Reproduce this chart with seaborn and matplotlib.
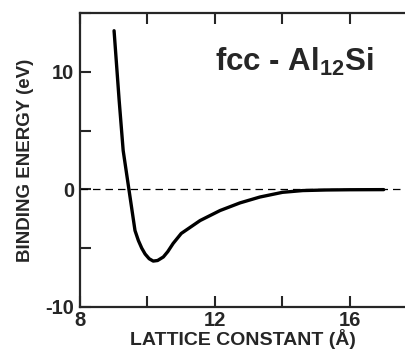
import matplotlib
matplotlib.use('Agg')
import matplotlib.pyplot as plt
import pandas as pd
import seaborn as sns
from matplotlib.ticker import MultipleLocator

# Binding energy curve
lattice = [9.01, 9.16, 9.28, 9.45, 9.63, 9.73, 9.83, 9.93, 10.05, 10.17, 10.3,
           10.47, 10.6, 10.76, 11.0, 11.56, 12.15, 12.74, 13.33, 14.0, 14.6, 15.3, 16.0, 17.0]
energy = [13.5, 7.6, 3.3, 0.0, -3.5, -4.35, -5.0, -5.5, -5.9, -6.1, -6.05,
          -5.75, -5.3, -4.6, -3.75, -2.65, -1.8, -1.15, -0.65, -0.25, -0.1, -0.05, -0.03, -0.02]
x_major = [8, 12, 16]
y_major = [-10, 0, 10]

df = pd.DataFrame({'lattice': lattice, 'energy': energy})

sns.set_style('ticks')
plt.rcParams['font.family'] = ['Liberation Sans', 'DejaVu Sans']
plt.rcParams['font.weight'] = 'bold'
plt.rcParams['axes.unicode_minus'] = False
plt.rcParams['mathtext.fontset'] = 'custom'
plt.rcParams['mathtext.rm'] = 'Liberation Sans:bold'
plt.rcParams['mathtext.bf'] = 'Liberation Sans:bold'

fig = plt.figure(figsize=(4.06, 3.54), dpi=100)
ax = fig.add_axes([0.197, 0.133, 0.803, 0.830])

# zero reference line
ax.axhline(0, color='black', lw=0.9, ls=(0, (6, 4)))
sns.lineplot(data=df, x='lattice', y='energy', ax=ax, color='black', lw=2.4, sort=False)

ax.set_xlim(8, 17.66)
ax.set_ylim(-10, 15)
ax.set_xticks(x_major)
ax.set_yticks(y_major)
ax.xaxis.set_minor_locator(MultipleLocator(2))
ax.yaxis.set_minor_locator(MultipleLocator(5))
ax.tick_params(which='both', direction='in', top=True, width=1.5, labelsize=14.5, pad=4)
ax.tick_params(axis='x', pad=3)
ax.tick_params(which='major', length=8)
ax.tick_params(which='minor', length=8)
for lab in ax.get_xticklabels() + ax.get_yticklabels():
    lab.set_fontweight('bold')

for side in ['left', 'bottom', 'top']:
    ax.spines[side].set_linewidth(1.6)
ax.spines['right'].set_visible(False)

ax.set_xlabel('LATTICE CONSTANT (Å)', fontsize=14, fontweight='bold', labelpad=-1)
ax.set_ylabel('BINDING ENERGY (eV)', fontsize=13.5, fontweight='bold', labelpad=8)

fig.text(294 / 406, 1 - 62 / 354, r'fcc - Al$_{\mathbf{12}}$Si', fontsize=22.5,
         fontweight='bold', ha='center', va='center')

fig.savefig('out.png', dpi=100)
